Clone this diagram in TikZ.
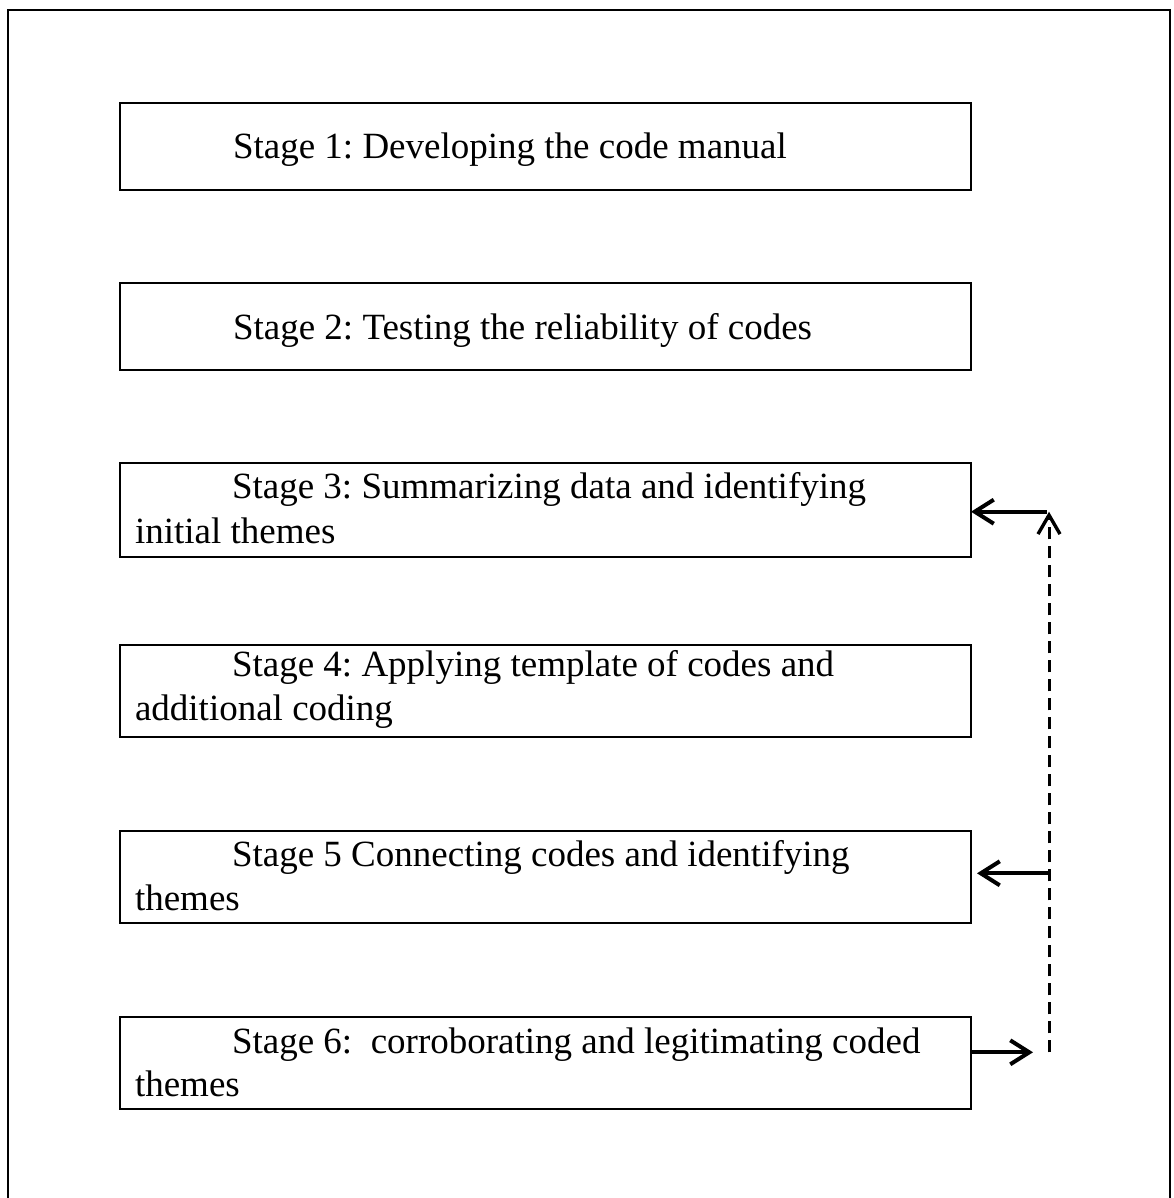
\documentclass[tikz,border=0pt]{standalone}
\usepackage{fontspec}
\setmainfont{Liberation Serif}
\usetikzlibrary{arrows.meta}
\frenchspacing

\begin{document}
\begin{tikzpicture}[x=1pt,y=-1pt,
  stagebox/.style={draw=black, line width=1.8pt, inner sep=0pt, outer sep=0pt,
                   minimum width=851pt},
  stagetext/.style={anchor=base west, inner sep=0pt, outer sep=0pt,
                    font=\fontsize{37}{44}\selectfont},
  feedback/.style={line width=4pt, -{Straight Barb[length=19pt,width=24pt]}},
  loopline/.style={line width=3pt, dash pattern=on 12pt off 7pt,
                   -{Straight Barb[length=19pt,width=22pt,line width=3.4pt]}}]

\useasboundingbox (0,0) rectangle (1173,1198);

% outer frame (open at the bottom edge)
\draw[line width=1.8pt] (8,1210) -- (8,10) -- (1170,10) -- (1170,1210);

% stage boxes
\node[stagebox, minimum height=86.7pt] (s1) at (545.5,146.7) {};
\node[stagebox, minimum height=86.7pt] (s2) at (545.5,326.7) {};
\node[stagebox, minimum height=93.7pt] (s3) at (545.5,509.8) {};
\node[stagebox, minimum height=92.3pt] (s4) at (545.5,691.2) {};
\node[stagebox, minimum height=92.3pt] (s5) at (545.5,877.2) {};
\node[stagebox, minimum height=92.3pt] (s6) at (545.5,1062.8) {};

% stage labels
\node[stagetext] (t1)  at (233,159)   {Stage 1: Developing the code manual};
\node[stagetext] (t2)  at (233,339)   {Stage 2: Testing the reliability of codes};
\node[stagetext] (t3a) at (232,498.3) {Stage 3: Summarizing data and identifying};
\node[stagetext] (t3b) at (135,543.3) {initial themes};
\node[stagetext] (t4a) at (232,676)   {Stage 4: Applying template of codes and};
\node[stagetext] (t4b) at (135,720)   {additional coding};
\node[stagetext] (t5a) at (232,866.7) {Stage 5 Connecting codes and identifying};
\node[stagetext] (t5b) at (135,910)   {themes};
\node[stagetext] (t6a) at (232,1053.3) {Stage 6:\ \ corroborating and legitimating coded};
\node[stagetext] (t6b) at (135,1096.7) {themes};

% feedback loop from stage 6 back to stages 5 and 3
\coordinate (top)  at (1049,511.7);
\coordinate (mid)  at (1049,873.3);
\coordinate (bot)  at (1049,1052.3);
\coordinate (out6) at (1033,1052.3);

\draw[feedback] (s6.east |- out6) -- (out6);
\draw[loopline] (bot) -- (top);
\draw[feedback] ([xshift=-2.3pt]top) -- (s3.east |- top);
\draw[feedback] (mid) -- ([xshift=6pt]s5.east |- mid);

\end{tikzpicture}
\end{document}
